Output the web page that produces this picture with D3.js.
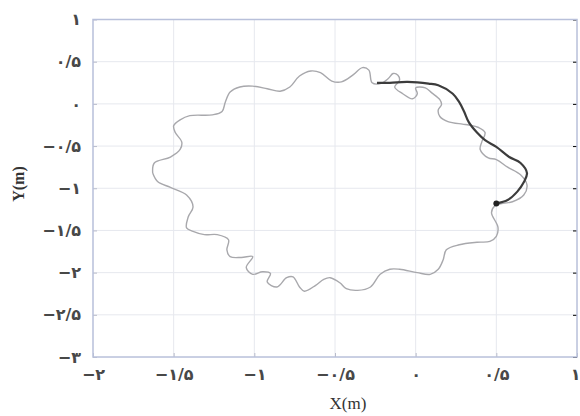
<!DOCTYPE html>
<html>
<head>
<meta charset="utf-8">
<script src="https://cdn.jsdelivr.net/npm/d3@7"></script>
<style>
  body { margin: 0; background: #fff; }
  .tick-label { font-family: "DejaVu Sans", sans-serif; font-size: 16px; font-weight: bold; fill: #484848; direction: ltr; }
</style>
</head>
<body>
<div id="chart"></div>
<script>
let width = 580,
  height = 416;

// closed wavy path, clockwise from the left side
let loopX = [-1.63, -1.62, -1.52, -1.46, -1.45, -1.49, -1.50, -1.46, -1.40, -1.26, -1.20, -1.18, -1.15, -1.09, -1.01, -0.92, -0.84, -0.78, -0.72, -0.65, -0.59, -0.52, -0.46, -0.39, -0.33, -0.29, -0.27, -0.22,
  -0.17, -0.14, -0.11, -0.10, -0.13, -0.08, -0.02, 0.01, 0.00, 0.06, 0.10, 0.15, 0.16, 0.14, 0.15, 0.20, 0.29, 0.33, 0.39, 0.43, 0.41, 0.40, 0.45, 0.50, 0.57, 0.65, 0.69, 0.67, 0.60, 0.54,
  0.49, 0.47, 0.51, 0.50, 0.46, 0.38, 0.27, 0.19, 0.17, 0.14, 0.09, 0.01, -0.10, -0.16, -0.22, -0.28, -0.36, -0.43, -0.47, -0.53, -0.57, -0.62, -0.69, -0.72, -0.76, -0.80, -0.86, -0.92, -0.90, -0.95, -1.01, -1.05, -1.01, -1.08, -1.15, -1.17, -1.16, -1.23, -1.31, -1.38, -1.42, -1.41, -1.38, -1.42, -1.52, -1.60, -1.63];
let loopY = [-0.82, -0.70, -0.63, -0.54, -0.45, -0.34, -0.26, -0.19, -0.14, -0.13, -0.09, 0.02, 0.14, 0.20, 0.21, 0.18, 0.15, 0.20, 0.33, 0.39, 0.37, 0.27, 0.26, 0.34, 0.43, 0.40, 0.25, 0.24,
  0.30, 0.36, 0.34, 0.28, 0.20, 0.12, 0.06, 0.12, 0.19, 0.19, 0.13, 0.05, -0.01, -0.07, -0.15, -0.21, -0.24, -0.25, -0.28, -0.34, -0.45, -0.54, -0.64, -0.66, -0.75, -0.84, -0.96, -1.08, -1.16, -1.18,
  -1.21, -1.29, -1.46, -1.57, -1.63, -1.64, -1.67, -1.73, -1.85, -1.96, -2.02, -2.00, -1.96, -1.96, -2.02, -2.17, -2.21, -2.19, -2.12, -2.06, -2.08, -2.15, -2.22, -2.17, -2.05, -2.06, -2.17, -2.11, -2.01, -1.99, -2.02, -1.94, -1.81, -1.82, -1.81, -1.73, -1.61, -1.55, -1.55, -1.51, -1.47, -1.34, -1.22, -1.08, -0.99, -0.92, -0.82];

// dark trajectory segment
let trackX = [-0.24, -0.16, -0.05, 0.08, 0.14, 0.23, 0.27, 0.30, 0.33, 0.38, 0.43, 0.50, 0.58, 0.65, 0.69, 0.67, 0.63, 0.57, 0.50];
let trackY = [0.25, 0.25, 0.26, 0.24, 0.22, 0.12, 0.02, -0.09, -0.22, -0.34, -0.43, -0.51, -0.63, -0.70, -0.82, -0.93, -1.04, -1.14, -1.18];

let xTicks = [-2, -1.5, -1, -0.5, 0, 0.5, 1];
let yTicks = [1, 0.5, 0, -0.5, -1, -1.5, -2, -2.5, -3];

const fa = "۰۱۲۳۴۵۶۷۸۹";
function persian(v) {
  let s = String(Math.abs(v)).replace(".", "/").replace(/[0-9]/g, c => fa[+c]);
  return (v < 0 ? "\u2212" : "") + s;
}

let svg = d3.select("#chart")
  .append("svg")
  .attr("width", width)
  .attr("height", height);

let x = d3.scaleLinear().domain([-2, 1]).range([93, 577]);
let y = d3.scaleLinear().domain([-3, 1]).range([357, 19.5]);

// grid
svg.append("g").selectAll("line")
  .data(xTicks.slice(1, -1))
  .join("line")
  .attr("x1", d => x(d)).attr("x2", d => x(d))
  .attr("y1", y(1)).attr("y2", y(-3))
  .attr("stroke", "#e6e8ee")
  .attr("stroke-width", 1);

svg.append("g").selectAll("line")
  .data(yTicks.slice(1, -1))
  .join("line")
  .attr("x1", x(-2)).attr("x2", x(1))
  .attr("y1", d => y(d)).attr("y2", d => y(d))
  .attr("stroke", "#e6e8ee")
  .attr("stroke-width", 1);

// axes with inward ticks
let xAxis = svg.append("g")
  .attr("transform", `translate(0,${y(-3)})`)
  .call(d3.axisBottom(x).tickValues(xTicks).tickSizeInner(-4).tickSizeOuter(0).tickPadding(12).tickFormat(persian));
let yAxis = svg.append("g")
  .attr("transform", `translate(${x(-2)},0)`)
  .call(d3.axisLeft(y).tickValues(yTicks).tickSizeInner(-4).tickSizeOuter(0).tickPadding(12).tickFormat(persian));
svg.append("g")
  .attr("transform", `translate(${x(1)},0)`)
  .call(d3.axisRight(y).tickValues(yTicks).tickSizeInner(-4).tickSizeOuter(0).tickFormat(""));

[xAxis, yAxis].forEach(a => {
  a.select(".domain").remove();
  a.selectAll(".tick line").attr("stroke", "#b9bccb");
  a.selectAll(".tick text").attr("class", "tick-label");
});
svg.selectAll(".domain").remove();

// last x label sits at the window edge; keep it inside
xAxis.selectAll(".tick text")
  .filter(d => d === 1)
  .attr("text-anchor", "end")
  .attr("dx", 3);

// frame
svg.append("rect")
  .attr("x", x(-2)).attr("y", y(1))
  .attr("width", x(1) - x(-2)).attr("height", y(-3) - y(1))
  .attr("fill", "none")
  .attr("stroke", "#b8c0da")
  .attr("stroke-width", 1.5);

let loop = loopX.map((v, i) => [v, loopY[i]]);
let track = trackX.map((v, i) => [v, trackY[i]]);

let line = d3.line()
  .x(d => x(d[0]))
  .y(d => y(d[1]))
  .curve(d3.curveCatmullRom.alpha(0.5));

svg.append("path")
  .datum(loop)
  .attr("d", line)
  .attr("fill", "none")
  .attr("stroke", "#a8a8ac")
  .attr("stroke-width", 1.4);

svg.append("path")
  .datum(track)
  .attr("d", line)
  .attr("fill", "none")
  .attr("stroke", "#3c3c3c")
  .attr("stroke-width", 2.2);

svg.append("circle")
  .attr("cx", x(trackX[trackX.length - 1]))
  .attr("cy", y(trackY[trackY.length - 1]))
  .attr("r", 3)
  .attr("fill", "#222");

// axis titles
svg.append("text")
  .attr("x", 348).attr("y", 409)
  .attr("text-anchor", "middle")
  .attr("font-family", "Liberation Serif, serif")
  .attr("font-size", 17)
  .attr("fill", "#333")
  .text("X(m)");

svg.append("text")
  .attr("transform", "translate(24,184) rotate(-90)")
  .attr("text-anchor", "middle")
  .attr("font-family", "Liberation Serif, serif")
  .attr("font-weight", "bold")
  .attr("font-size", 16)
  .attr("fill", "#333")
  .text("Y(m)");
</script>
</body>
</html>
